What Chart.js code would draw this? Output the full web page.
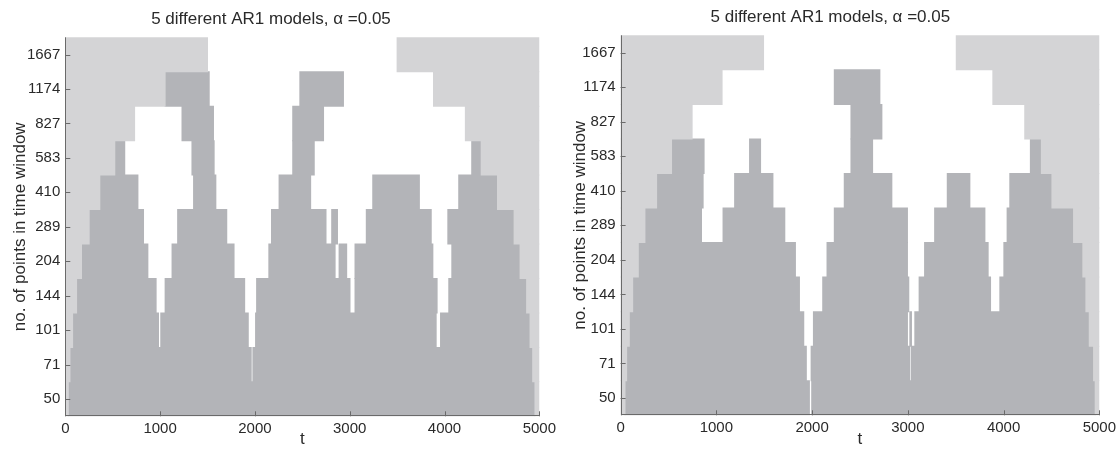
<!DOCTYPE html>
<html>
<head>
<meta charset="utf-8">
<script src="https://cdn.jsdelivr.net/npm/chart.js@4.4.1/dist/chart.umd.min.js"></script>
<style>
  html, body { margin: 0; padding: 0; background: #fff; }
  #wrap { position: relative; width: 1120px; height: 451px; overflow: hidden; }
  canvas { position: absolute; top: 0; }
</style>
</head>
<body>
<div id="wrap">
  <canvas id="chart-left" width="560" height="451" style="left:0"></canvas>
  <canvas id="chart-right" width="560" height="451" style="left:560px"></canvas>
</div>
<script>
// ── Data ──────────────────────────────────────────────────────────────────────

const WINDOW_SIZES = ['1667', '1174', '827', '583', '410', '289', '204', '144', '101', '71', '50'];
const T_TICKS = [0, 1000, 2000, 3000, 4000, 5000];
const TITLE = '5 different AR1 models, \u03b1 =0.05';

// one list of [tStart, tEnd] intervals per window size (top row first)
const leftLight = [
  [[0, 1500], [3500, 5000]],
  [[0, 1053], [3884, 5000]],
  [[0, 731], [4220, 5000]],
  [[0, 522], [4387, 5000]],
  [[0, 364], [4559, 5000]],
  [[0, 252], [4734, 5000]],
  [[0, 171], [4797, 5000]],
  [[0, 119], [4866, 5000]],
  [[0, 77], [4902, 5000]],
  [[0, 49], [4930, 5000]],
  [[0, 32], [4954, 5000]],
];
const leftDark = [
  [],
  [[1053, 1518], [2474, 2934]],
  [[1231, 1563], [2399, 2724]],
  [[522, 627], [1336, 1570], [2399, 2626], [4287, 4387]],
  [[364, 766], [1353, 1588], [2255, 2588], [3243, 3735], [4150, 4559]],
  [[252, 825], [1185, 1703], [2175, 2750], [2810, 2871], [3175, 3860], [4035, 4734]],
  [[171, 871], [1126, 1780], [2147, 2846], [2888, 2968], [3056, 3877], [4077, 4797]],
  [[119, 958], [1053, 1892], [2018, 3003], [3056, 3922], [4045, 4866]],
  [[77, 983], [1007, 1930], [2007, 3912], [3958, 4902]],
  [[49, 1961], [1979, 4930]],
  [[32, 4954]],
];
const rightLight = [
  [[0, 1493], [3506, 5000]],
  [[0, 1060], [3888, 5000]],
  [[0, 747], [4221, 5000]],
  [[0, 532], [4395, 5000]],
  [[0, 376], [4505, 5000]],
  [[0, 254], [4731, 5000]],
  [[0, 185], [4828, 5000]],
  [[0, 126], [4860, 5000]],
  [[0, 91], [4895, 5000]],
  [[0, 63], [4940, 5000]],
  [[0, 46], [4957, 5000]],
];
const rightDark = [
  [],
  [[2232, 2708]],
  [[2406, 2729]],
  [[532, 872], [1347, 1462], [2406, 2632], [4280, 4395]],
  [[376, 862], [1191, 1591], [2336, 2833], [3412, 3648], [4065, 4505]],
  [[254, 845], [1070, 1715], [2232, 2996], [3280, 3805], [4037, 4731]],
  [[185, 1826], [2156, 2996], [3175, 3839], [4003, 4828]],
  [[126, 1868], [2111, 3010], [3118, 3864], [3961, 4860]],
  [[91, 1913], [2014, 2996], [3021, 3038], [3073, 4895]],
  [[63, 1940], [1990, 3021], [3038, 4940]],
  [[46, 1972], [1996, 4957]],
];

// ── Style ─────────────────────────────────────────────────────────────────────

const FONT = '"Liberation Sans", Arial, Helvetica, sans-serif';
const TEXT = '#2a2a2a';
const LIGHT = '#d4d4d6';
const DARK = '#b3b4b8';
const AXIS = '#6a6a6a';

// plot rectangles inside each 560x451 canvas
const BOX_LEFT  = { left: 65.3, right: 542.0, top: 37.3, bottom: 416.3, titleY: 19.0 };
const BOX_RIGHT = { left: 60.6, right: 540.7, top: 35.3, bottom: 415.3, titleY: 17.3 };

function toPoints(rows) {
  const pts = [];
  rows.forEach((segs, i) => segs.forEach(([s, e]) => pts.push({ y: WINDOW_SIZES[i], x: [s, e] })));
  return pts;
}

// MATLAB-like axes: inward ticks, left + bottom lines drawn over the data
const axesOnTop = {
  id: 'axesOnTop',
  afterDatasetsDraw(chart) {
    const { ctx, chartArea: a, scales: { x, y } } = chart;
    ctx.save();
    ctx.strokeStyle = AXIS;
    ctx.lineWidth = 1;
    ctx.beginPath();
    T_TICKS.forEach(v => {
      const px = Math.round(x.getPixelForValue(v)) + 0.5;
      ctx.moveTo(px, a.bottom);
      ctx.lineTo(px, a.bottom - 5);
    });
    WINDOW_SIZES.forEach((lbl, i) => {
      const py = Math.round(y.getPixelForTick(i)) + 0.5;
      ctx.moveTo(a.left, py);
      ctx.lineTo(a.left + 5, py);
    });
    const l = Math.round(a.left) + 0.5, b = Math.round(a.bottom) - 0.5;
    ctx.moveTo(l, a.top);
    ctx.lineTo(l, b);
    ctx.lineTo(a.right, b);
    ctx.stroke();
    ctx.restore();
  },
};

function mkPanel(id, light, dark, box) {
  const titleSize = 17;
  const titleH = titleSize * 1.2;
  const padTop = box.titleY - titleH / 2;
  return new Chart(document.getElementById(id), {
    type: 'bar',
    data: {
      labels: WINDOW_SIZES,
      datasets: [
        { label: 'light', data: toPoints(light), backgroundColor: LIGHT },
        { label: 'dark', data: toPoints(dark), backgroundColor: DARK },
      ],
    },
    options: {
      indexAxis: 'y',
      responsive: false,
      animation: false,
      devicePixelRatio: 1,
      layout: { padding: { left: 0, right: 560 - box.right, top: 0, bottom: 0 } },
      datasets: {
        bar: { categoryPercentage: 1, barPercentage: 1, grouped: false, borderWidth: 0, inflateAmount: 0.5 },
      },
      plugins: {
        legend: { display: false },
        tooltip: { enabled: false },
        title: {
          display: true,
          text: TITLE,
          color: TEXT,
          font: { family: FONT, size: titleSize, weight: 'normal', lineHeight: 1.2 },
          padding: { top: padTop, bottom: box.top - titleH - padTop },
        },
      },
      scales: {
        x: {
          type: 'linear',
          min: 0,
          max: 5000,
          afterBuildTicks: s => { s.ticks = T_TICKS.map(v => ({ value: v })); },
          afterFit: s => { s.height = 451 - box.bottom; },
          grid: { display: false, drawTicks: false },
          border: { display: false },
          ticks: {
            color: TEXT, padding: 4, maxRotation: 0,
            font: { family: FONT, size: 15 },
            callback: v => String(v),
          },
          title: {
            display: true, text: 't', color: TEXT,
            font: { family: FONT, size: 17, lineHeight: 1.2 },
            padding: { top: 0, bottom: 1 },
          },
        },
        y: {
          type: 'category',
          offset: true,
          afterFit: s => { s.width = box.left; },
          grid: { display: false, drawTicks: false },
          border: { display: false },
          ticks: { color: TEXT, padding: 5, font: { family: FONT, size: 15 } },
          title: {
            display: true, text: 'no. of points in time window', color: TEXT,
            font: { family: FONT, size: 17, lineHeight: 1.2 },
            padding: { top: 9.8, bottom: 0 },
          },
        },
      },
    },
    plugins: [axesOnTop],
  });
}

mkPanel('chart-left', leftLight, leftDark, BOX_LEFT);
mkPanel('chart-right', rightLight, rightDark, BOX_RIGHT);
</script>
</body>
</html>
